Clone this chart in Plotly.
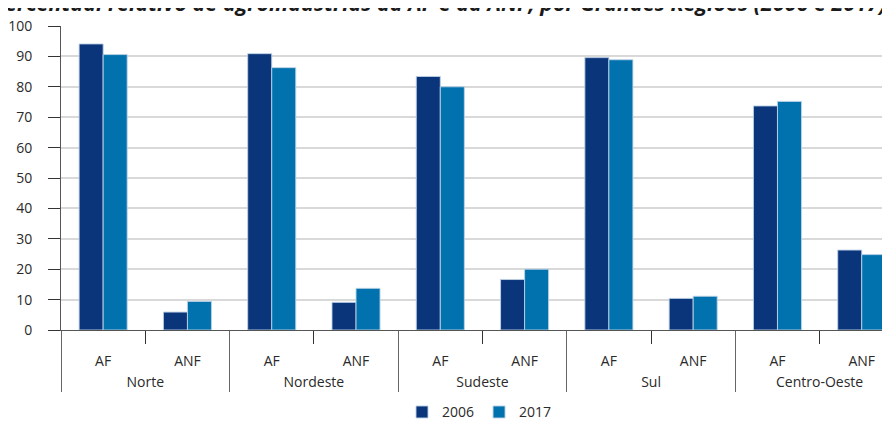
import plotly.graph_objects as go

regions = ["Norte", "Nordeste", "Sudeste", "Sul", "Centro-Oeste"]
groups = ["AF", "ANF"]
years = ["2006", "2017"]
v2006 = [94.1, 5.9, 90.9, 9.1, 83.4, 16.6, 89.6, 10.4, 73.7, 26.3]
v2017 = [90.6, 9.4, 86.3, 13.7, 80.0, 20.0, 88.9, 11.1, 75.2, 24.8]
y_ticks = list(range(0, 101, 10))
title = "Percentual relativo de agroindústrias da AF e da ANF, por Grandes Regiões (2006 e 2017)"

# blank leading lines push the axis labels down, as in the reference
xr = ["<br>" + r for r in regions for _ in groups]
xg = ["<br>" + g for _ in regions for g in groups]

colors = ["#0b357a", "#0172ae"]
fnt = "Open Sans, Noto Sans, DejaVu Sans, sans-serif"

fig = go.Figure()
for name, vals, c in zip(years, [v2006, v2017], colors):
    fig.add_trace(go.Bar(
        x=[xr, xg], y=vals, name=name,
        marker=dict(color=c, line=dict(color="rgba(190,210,230,0.9)", width=1)),
    ))

fig.update_layout(
    width=890, height=423,
    margin=dict(l=53, r=0, t=18, b=101),
    paper_bgcolor="white", plot_bgcolor="white",
    barmode="group", bargap=0.43, bargroupgap=0,
    font=dict(family=fnt, size=14, color="#2a2a2a"),
    showlegend=True,
    legend=dict(orientation="h", x=0.5, xanchor="center", y=-0.271, yanchor="middle",
                font=dict(size=14, color="#2a2a2a"), itemwidth=30, traceorder="normal"),
    annotations=[dict(
        text="<b><i>" + title + "</i></b>", xref="paper", yref="paper",
        x=1, y=1, xanchor="right", yanchor="bottom", xshift=-10, yshift=6.5,
        showarrow=False, font=dict(size=21.5, color="#1a1a1a", family=fnt),
    )],
)
fig.update_yaxes(
    range=[0, 100], tickvals=y_ticks, ticktext=[str(v) for v in y_ticks],
    showgrid=True, gridcolor="#d9d9d9", gridwidth=1.5,
    showline=True, linecolor="#555555", linewidth=1,
    ticks="outside", ticklen=12, tickcolor="#333333", tickwidth=1,
    ticklabelstandoff=13,
    zeroline=False, tickfont=dict(size=14, color="#2a2a2a"),
)
fig.update_xaxes(
    type="multicategory", range=[-0.5, 9.43],
    showline=True, linecolor="#555555", linewidth=1,
    ticks="outside", ticklen=13, tickcolor="#333333",
    showdividers=True, dividercolor="#666666", dividerwidth=1,
    tickfont=dict(size=14, color="#2a2a2a"),
)

fig.write_html("out.html")
